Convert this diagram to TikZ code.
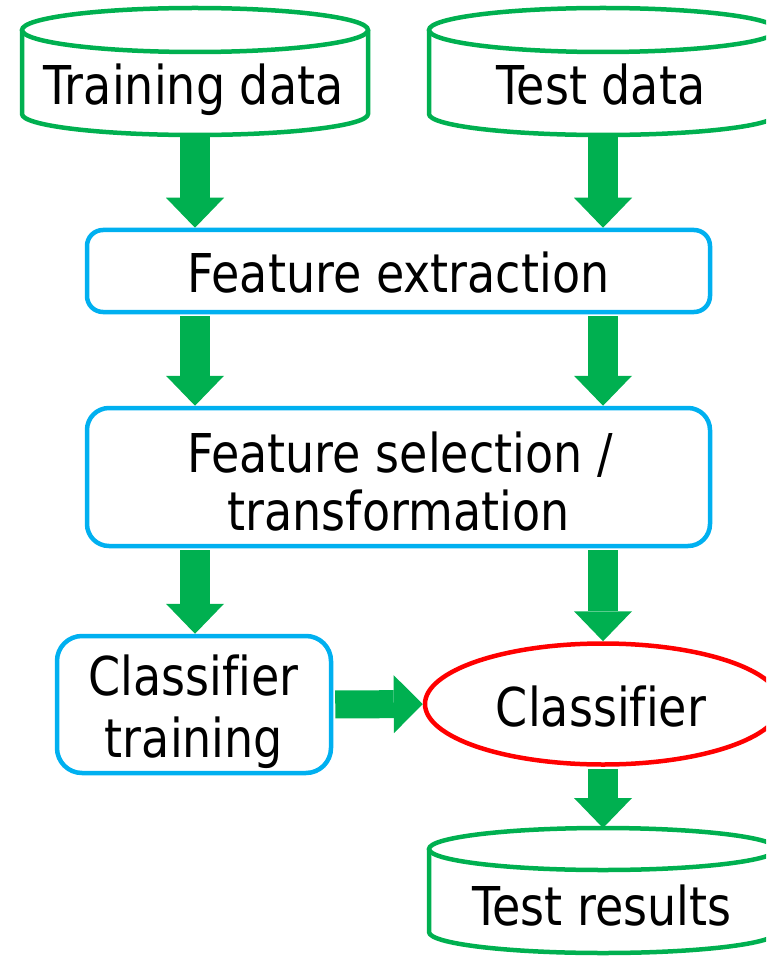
\documentclass[tikz,border=0pt]{standalone}
\usepackage{fontspec}
\setmainfont[FakeStretch=0.86,Ligatures=NoCommon]{DejaVu Sans}
\usetikzlibrary{arrows.meta,shapes.geometric}
\definecolor{gcol}{RGB}{0,176,80}
\definecolor{bcol}{RGB}{0,176,240}
\definecolor{rcol}{RGB}{255,0,0}
\begin{document}
\begin{tikzpicture}[x=1pt,y=1pt,
  txt/.style={inner sep=0pt, anchor=base, font=\fontsize{53.5}{60}\selectfont},
  bbox/.style={draw=bcol, line width=4.5pt, inner sep=0pt},
  cyl/.style={draw=gcol, line width=4.5pt},
  garrow/.style={draw=gcol, line width=30pt, shorten <=2pt, -{Triangle[width=58pt,length=30pt,line width=0pt]}},
]
\useasboundingbox (0,0) rectangle (766,-957);
\clip (0,0) rectangle (766,-957);

% cylinders
\draw[cyl] (22,-30) -- (22,-114) arc[start angle=180, end angle=360, x radius=173, y radius=21] -- (368,-30);
\draw[cyl] (195,-30) ellipse [x radius=173, y radius=22];
\coordinate (trdB) at (195,-135);
\node[txt] (trdT) at (193.5,-105) {Training data};

\draw[cyl] (429,-30) -- (429,-114) arc[start angle=180, end angle=360, x radius=174, y radius=21] -- (777,-30);
\draw[cyl] (603,-30) ellipse [x radius=174, y radius=22];
\coordinate (tsdB) at (603,-135);
\node[txt] (tsdT) at (601,-105) {Test data};

\draw[cyl] (429,-849) -- (429,-932) arc[start angle=180, end angle=360, x radius=174, y radius=21] -- (777,-849);
\draw[cyl] (603,-849) ellipse [x radius=174, y radius=21];
\coordinate (trsT) at (603,-828);
\node[txt] (trsL) at (602,-925) {Test results};

% boxes
\node[bbox, rounded corners=16pt, minimum width=623pt, minimum height=82pt] (fe) at (398.5,-271) {};
\node[txt] (feT) at (398.5,-292) {Feature extraction};

\node[bbox, rounded corners=22pt, minimum width=623pt, minimum height=138pt] (fs) at (398.5,-477) {};
\node[txt] (fsT1) at (400,-472) {Feature selection /};
\node[txt] (fsT2) at (398.5,-530) {transformation};

\node[bbox, rounded corners=25pt, minimum width=274pt, minimum height=137pt] (ct) at (194,-704.5) {};
\node[txt] (ctT1) at (193.5,-695) {Classifier};
\node[txt] (ctT2) at (194,-757) {training};

\node[draw=rcol, line width=4.5pt, ellipse, inner sep=0pt, minimum width=356pt, minimum height=121pt] (cls) at (603,-704) {};
\node[txt] (clsT) at (601,-726) {Classifier};

% arrows
\draw[garrow] (trdB) -- (trdB |- fe.north);
\draw[garrow] (tsdB) -- (tsdB |- fe.north);
\draw[garrow] (fe.south -| trdB) -- (fs.north -| trdB);
\draw[garrow] (fe.south -| tsdB) -- (fs.north -| tsdB);
\draw[garrow] (fs.south -| trdB) -- (ct.north -| trdB);
\draw[garrow] (fs.south -| tsdB) -- (cls.north);
\draw[garrow, line width=28pt, -{Triangle[width=58pt,length=29pt,line width=0pt]}] (ct.east) -- (cls.west);
\draw[garrow] (cls.south) -- (trsT);
\end{tikzpicture}
\end{document}
